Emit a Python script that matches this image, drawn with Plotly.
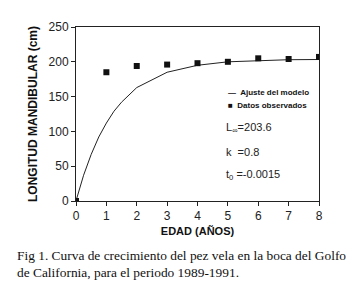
import plotly.graph_objects as go

# Fitted model curve
fit_x = [0, 0.25, 0.5, 0.75, 1, 1.25, 1.5, 1.75, 2, 3, 4, 5, 6, 7, 8]
fit_y = [0.2, 37, 67, 92, 112, 129, 142, 153, 163, 185, 195, 200, 202, 203, 203.3]

# Observed data
obs_x = [0, 1, 2, 3, 4, 5, 6, 7, 8]
obs_y = [0, 185, 194, 196, 198, 200, 205, 204, 207]

x_ticks = [0, 1, 2, 3, 4, 5, 6, 7, 8]
y_ticks = [0, 50, 100, 150, 200, 250]

W, H = 354, 291
L, R, T, B = 68, 43, 13, 98
pw, ph = W - L - R, H - T - B

def px(x):
    return (x - L) / pw

def py(y):
    return (H - B - y) / ph

fig = go.Figure()
fig.add_trace(go.Scatter(x=fit_x, y=fit_y, mode="lines",
                         line=dict(color="#222", width=1), name="Ajuste del modelo"))
fig.add_trace(go.Scatter(x=obs_x, y=obs_y, mode="markers",
                         marker=dict(symbol="square", size=6, color="#111"),
                         name="Datos observados"))

axis_common = dict(showgrid=False, zeroline=False, showline=True, linecolor="#222",
                   linewidth=1, mirror=True, ticks="outside", ticklen=4, tickcolor="#222",
                   tickfont=dict(family="Arial, Liberation Sans", size=12, color="#222"))

fig.update_xaxes(range=[0, 8], tickvals=x_ticks, **axis_common,
                 title=dict(text="<b>EDAD (AÑOS)</b>", standoff=4,
                            font=dict(family="Arial, Liberation Sans", size=11, color="#111")))
fig.update_yaxes(range=[0, 250], tickvals=y_ticks, **axis_common,
                 title=dict(text="<b>LONGITUD MANDIBULAR (cm)</b>", standoff=8,
                            font=dict(family="Arial, Liberation Sans", size=12, color="#111")))

ann_font = dict(family="Arial, Liberation Sans", size=11, color="#222")
leg_font = dict(family="Arial, Liberation Sans", size=8, color="#111")
cap_font = dict(family="Liberation Serif, Times New Roman", size=13.4, color="#111")
anns = [
    dict(x=px(218), y=py(81), text="<b>—  Ajuste del modelo</b>", font=leg_font),
    dict(x=px(218), y=py(94), text="<b>■  Datos observados</b>", font=leg_font),
    dict(x=px(216), y=py(117), text="L<sub>∞</sub>=203.6", font=ann_font),
    dict(x=px(216), y=py(142), text="k  =0.8", font=ann_font),
    dict(x=px(216), y=py(166), text="t<sub>0</sub> =-0.0015", font=ann_font),
    dict(x=px(7), y=py(249), text="Fig 1. Curva de crecimiento del pez vela en la boca del Golfo",
         font=cap_font),
    dict(x=px(7), y=py(267), text="de California, para el periodo 1989-1991.", font=cap_font),
]
for a in anns:
    a.update(xref="paper", yref="paper", xanchor="left", yanchor="middle", showarrow=False)
fig.update_layout(annotations=anns)

fig.update_layout(width=W, height=H, margin=dict(l=L, r=R, t=T, b=B),
                  paper_bgcolor="white", plot_bgcolor="white", showlegend=False)

fig.write_html("out.html")
